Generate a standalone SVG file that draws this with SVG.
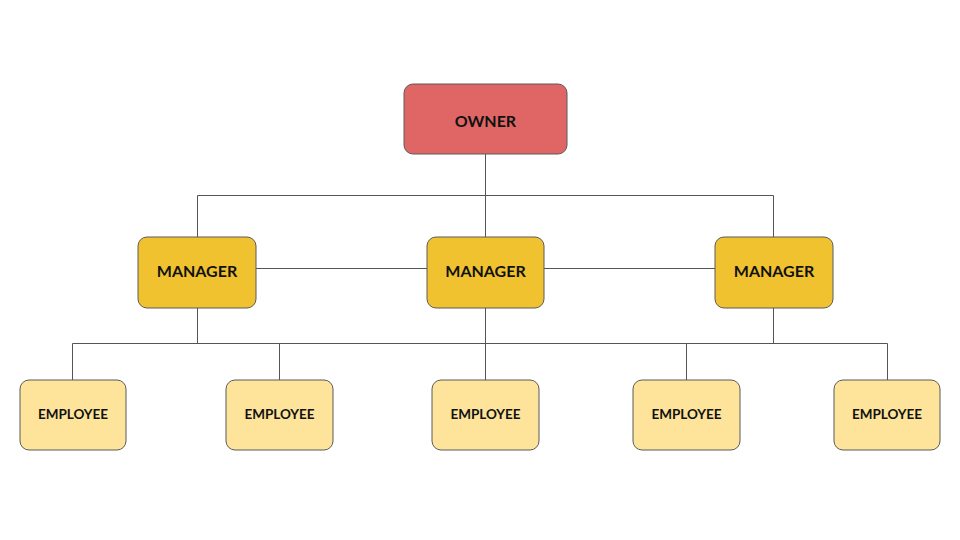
<svg xmlns="http://www.w3.org/2000/svg" width="960" height="540" viewBox="0 0 960 540">
<style>
.n{stroke:#5a5a5a;stroke-width:1}
.o{fill:#e06666}.m{fill:#f0c230}.e{fill:#fde49a}
text{font-family:Lato,"Open Sans","Liberation Sans",sans-serif;font-weight:bold;fill:#111;text-anchor:middle;dominant-baseline:central}
.c{stroke:#555;stroke-width:1;fill:none}
</style>
<rect width="960" height="540" fill="#fff"/>
<g id="connectors" class="c">
<path d="M485.5 154V237M197.5 237V195.5H773.5V237"/>
<path d="M256 268.5H427M544 268.5H715"/>
<path d="M197.5 308V343.5M485.5 308V380M773.5 308V343.5M72.5 380V343.5H887.5V380M279.5 343.5V380M686.5 343.5V380"/>
</g>
<g id="owner"><rect class="n o" x="404" y="84" width="163" height="70" rx="9"/><text x="485.5" y="120" font-size="16">OWNER</text></g>
<g id="manager1"><rect class="n m" x="138" y="237" width="118" height="71" rx="9"/><text x="197" y="270" font-size="16">MANAGER</text></g>
<g id="manager2"><rect class="n m" x="427" y="237" width="117" height="71" rx="9"/><text x="485.5" y="270" font-size="16">MANAGER</text></g>
<g id="manager3"><rect class="n m" x="715" y="237" width="118" height="71" rx="9"/><text x="774" y="270" font-size="16">MANAGER</text></g>
<g id="employee1"><rect class="n e" x="20" y="380" width="106" height="70" rx="9"/><text x="73" y="414" font-size="13.5">EMPLOYEE</text></g>
<g id="employee2"><rect class="n e" x="226" y="380" width="107" height="70" rx="9"/><text x="279.5" y="414" font-size="13.5">EMPLOYEE</text></g>
<g id="employee3"><rect class="n e" x="432" y="380" width="107" height="70" rx="9"/><text x="485.5" y="414" font-size="13.5">EMPLOYEE</text></g>
<g id="employee4"><rect class="n e" x="633" y="380" width="107" height="70" rx="9"/><text x="686.5" y="414" font-size="13.5">EMPLOYEE</text></g>
<g id="employee5"><rect class="n e" x="834" y="380" width="106" height="70" rx="9"/><text x="887" y="414" font-size="13.5">EMPLOYEE</text></g>
</svg>
